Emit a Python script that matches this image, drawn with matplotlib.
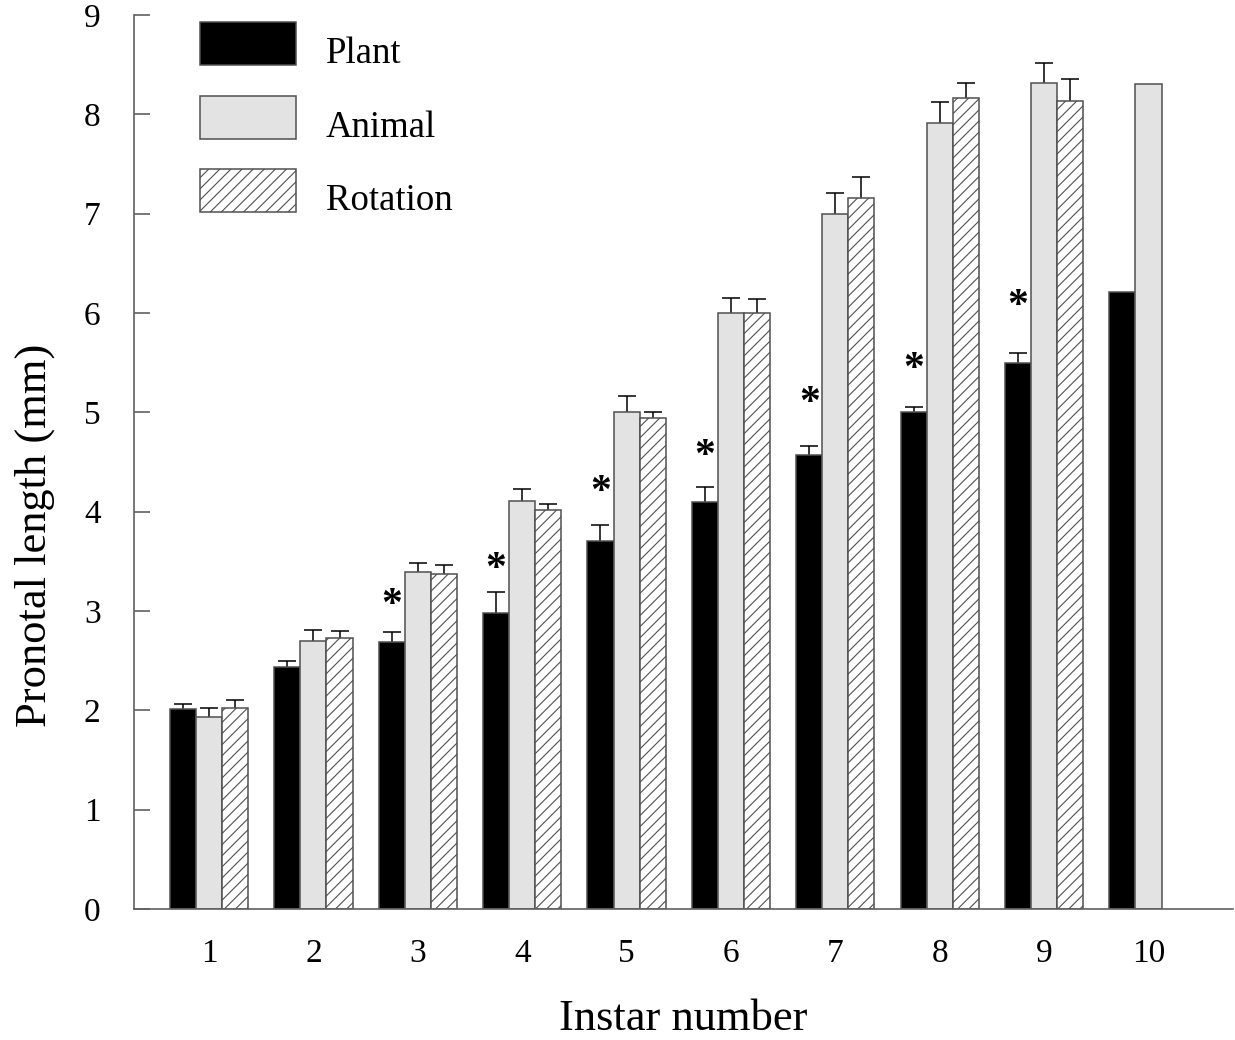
import numpy as np
import matplotlib
matplotlib.use("Agg")
import matplotlib.pyplot as plt
from matplotlib.patches import Rectangle

plt.rcParams['font.family'] = 'serif'
plt.rcParams['font.serif'] = ['Liberation Serif', 'DejaVu Serif']
plt.rcParams['hatch.linewidth'] = 0.8

# Data
instars = [1, 2, 3, 4, 5, 6, 7, 8, 9, 10]
plant = [2.01, 2.44, 2.69, 2.98, 3.70, 4.10, 4.57, 5.00, 5.50, 6.21]
plant_err = [0.05, 0.06, 0.10, 0.21, 0.17, 0.15, 0.09, 0.05, 0.10, np.nan]
animal = [1.93, 2.70, 3.39, 4.11, 5.00, 6.00, 7.00, 7.91, 8.32, 8.31]
animal_err = [0.09, 0.11, 0.09, 0.12, 0.16, 0.15, 0.21, 0.21, 0.20, np.nan]
rotation = [2.02, 2.73, 3.37, 4.02, 4.94, 6.00, 7.16, 8.16, 8.13, np.nan]
rotation_err = [0.08, 0.07, 0.09, 0.06, 0.06, 0.14, 0.21, 0.16, 0.23, np.nan]
star_y = [np.nan, np.nan, 3.15, 3.51, 4.29, 4.65, 5.18, 5.52, 6.16, np.nan]
labels = ['Plant', 'Animal', 'Rotation']

x = np.array(instars, dtype=float)
w = 0.25
edge = '#505050'

fig = plt.figure(figsize=(12.35, 10.4), dpi=100)
ax = fig.add_axes([0.1085, 0.1260, 0.8899, 0.8596])

styles = [
    dict(facecolor='black'),
    dict(facecolor='#e3e3e3'),
    dict(facecolor='white', hatch='///'),
]
series = [(plant, plant_err, -w), (animal, animal_err, 0.0), (rotation, rotation_err, w)]
for (vals, errs, off), st in zip(series, styles):
    ax.bar(x + off, vals, width=w, edgecolor=edge, linewidth=1.1, zorder=2, **st)
    eb = ax.errorbar(x + off, vals, yerr=[np.zeros(len(errs)), errs], fmt='none',
                     ecolor='black', elinewidth=1.1, capsize=6.8, capthick=1.1, zorder=1)
    eb[1][0].set_visible(False)  # only upper half of the error bars

# significance stars above the plant bars
for xi, sy in zip(x, star_y):
    if not np.isnan(sy):
        ax.annotate('*', (xi - w, sy), xytext=(0, -7), textcoords='offset points',
                    ha='center', va='center', fontsize=30, fontweight='bold')

# legend drawn by hand (text sits on the box baseline as in the original)
leg_bottoms = [0.9441, 0.8613, 0.7796]
for lab, st, yb in zip(labels, styles, leg_bottoms):
    ax.add_patch(Rectangle((0.0601, yb), 0.0874, 0.0481, transform=ax.transAxes,
                           edgecolor=edge, linewidth=1.1, zorder=3, **st))
    ax.text(0.1747, yb + 0.0022, lab, transform=ax.transAxes, fontsize=26.5,
            ha='left', va='baseline')

ax.set_xlim(0.281, 10.81)
ax.set_ylim(0, 9)
ax.set_xticks(x)
ax.set_xticklabels([str(i) for i in instars])
ax.set_yticks(range(10))

for s in ['top', 'right']:
    ax.spines[s].set_visible(False)
for s in ['left', 'bottom']:
    ax.spines[s].set_color('#606060')
    ax.spines[s].set_linewidth(1.2)

ax.tick_params(axis='y', direction='in', length=11.5, width=1.2, color='#606060',
               labelsize=24, pad=24)
ax.tick_params(axis='x', length=0, labelsize=24, pad=21)

ax.set_xlabel('Instar number', fontsize=32)
ax.set_ylabel('Pronotal length (mm)', fontsize=32)
ax.xaxis.set_label_coords(0.5, -0.101)
ax.yaxis.set_label_coords(-0.072, 0.418)

fig.savefig('out.png', dpi=100)
